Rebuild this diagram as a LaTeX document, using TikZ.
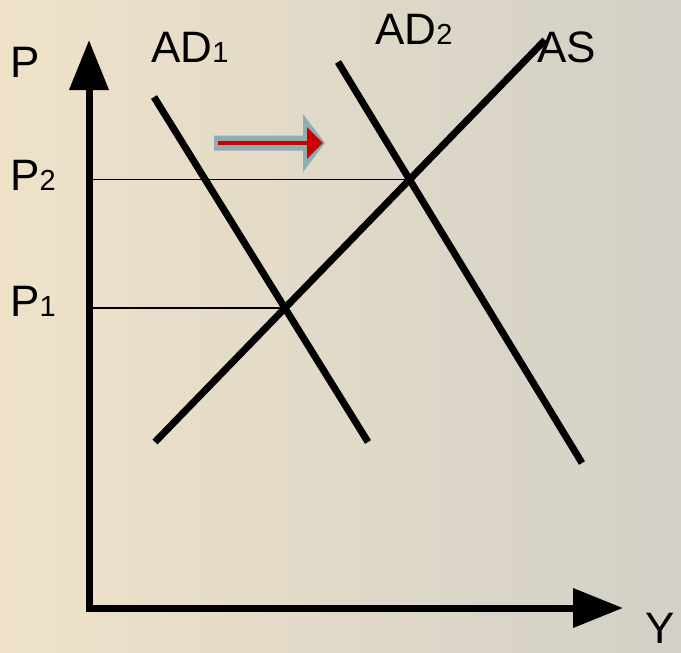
\documentclass[tikz,border=0pt]{standalone}
\usepackage{fontspec}
\setmainfont{Liberation Sans}
\usetikzlibrary{arrows.meta, positioning}
\definecolor{paper}{HTML}{EFE2C9}
\definecolor{banknote}{HTML}{D2D0C7}
\definecolor{shiftgray}{HTML}{8FAEB2}
\definecolor{shiftred}{HTML}{CC0000}
\tikzset{
  x=1pt, y=-1pt, % one unit is one pixel, y runs down
  axis/.style={line width=7pt, line join=miter,
    {Triangle[length=50pt,width=38pt]}-{Triangle[length=50pt,width=38pt]}}, % both axes
  curve/.style={line width=7pt}, % AD and AS lines
  guide/.style={line width=1.3pt}, % thin price lines
  lbl/.style={anchor=base west, inner sep=0pt,
    font=\fontsize{44}{50}\selectfont}, % axis and curve labels
}
\newcommand{\idx}[1]{{\fontsize{29}{30}\selectfont #1}}

\begin{document}
\begin{tikzpicture}
    \useasboundingbox (0,0) rectangle (681,653);
    \shade[left color=paper, right color=banknote] (0,0) rectangle (681,653);

    % axes
    \coordinate (ytip) at (89,40);
    \coordinate (origin) at (89,608);
    \coordinate (xtip) at (623,608);
    \draw[axis] (ytip) -- (origin) -- (xtip);

    % curves
    \coordinate (ad1top) at (154,97);
    \coordinate (ad1bot) at (368,442);
    \coordinate (ad2top) at (338,62);
    \coordinate (ad2bot) at (582,463);
    \coordinate (asbot) at (155,442);
    \coordinate (astop) at (545,40);
    \draw[curve] (ad1top) -- (ad1bot);
    \draw[curve] (ad2top) -- (ad2bot);
    \draw[curve] (asbot) -- (astop);

    % equilibria
    \coordinate (eq1) at (intersection of ad1top--ad1bot and asbot--astop);
    \coordinate (eq2) at (intersection of ad2top--ad2bot and asbot--astop);
    \draw[guide] (origin |- eq1) -- (eq1);
    \draw[guide] (origin |- eq2) -- (eq2);

    % labels
    \node[lbl] (plbl) at (10,77) {P};
    \node[lbl] (p2lbl) at (10,190) {P\idx{2}};
    \node[lbl] (p1lbl) at (10,316) {P\idx{1}};
    \node[lbl] (ylbl) at (645,643) {Y};
    \node[lbl] (ad1lbl) at (151,62) {AD\idx{1}};
    \node[lbl] (ad2lbl) at (375,45) {AD\idx{2}};
    \node[lbl] (aslbl) at (537,62) {AS};

    % shift of demand
    \fill[shiftgray] (214,135.5) -- (303,135.5) -- (303,114) -- (325,143)
      -- (303,172) -- (303,150.5) -- (214,150.5) -- cycle;
    \coordinate (shiftfrom) at (218,143);
    \coordinate (shiftto) at (323,143);
    \draw[shiftred, line width=4pt, -{Triangle[length=16pt,width=31pt]}] (shiftfrom) -- (shiftto);
\end{tikzpicture}
\end{document}
